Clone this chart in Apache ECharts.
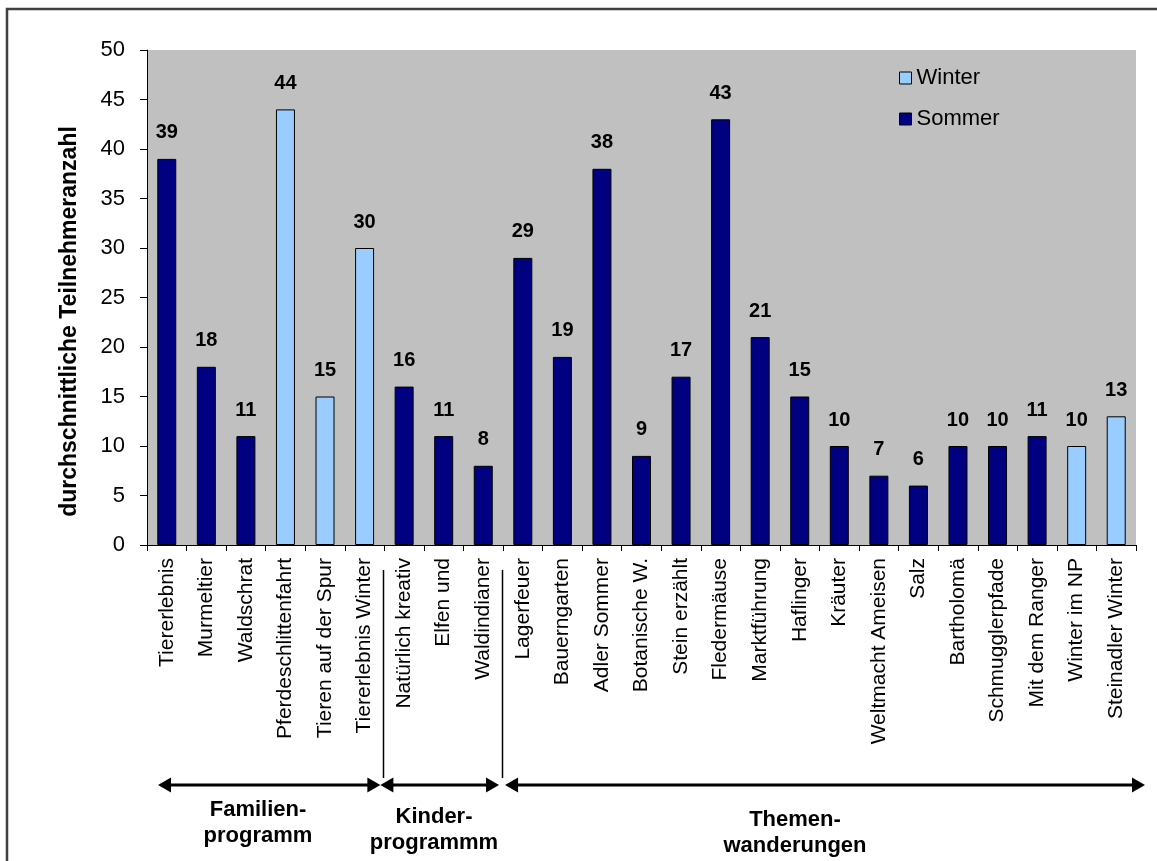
<!DOCTYPE html>
<html>
<head>
<meta charset="utf-8">
<script src="https://cdn.jsdelivr.net/npm/echarts@6/dist/echarts.min.js"></script>
<style>
  html, body { margin: 0; padding: 0; background: #ffffff; }
  #chart { width: 1157px; height: 861px; }
</style>
</head>
<body>
<div id="chart"></div>
<script>
// Programme names (x axis), in display order
const categories = [
  'Tiererlebnis', 'Murmeltier', 'Waldschrat', 'Pferdeschlittenfahrt', 'Tieren auf der Spur',
  'Tiererlebnis Winter', 'Natürlich kreativ', 'Elfen und', 'Waldindianer', 'Lagerfeuer',
  'Bauerngarten', 'Adler Sommer', 'Botanische W.', 'Stein erzählt', 'Fledermäuse',
  'Marktführung', 'Haflinger', 'Kräuter', 'Weltmacht Ameisen', 'Salz',
  'Bartholomä', 'Schmugglerpfade', 'Mit dem Ranger', 'Winter im NP', 'Steinadler Winter'
];

// Average number of participants per programme
const values = [39, 18, 11, 44, 15, 30, 16, 11, 8, 29, 19, 38, 9, 17, 43, 21, 15, 10, 7, 6, 10, 10, 11, 10, 13];

// Season of each programme
const seasons = [
  'Sommer', 'Sommer', 'Sommer', 'Winter', 'Winter', 'Winter', 'Sommer', 'Sommer', 'Sommer', 'Sommer',
  'Sommer', 'Sommer', 'Sommer', 'Sommer', 'Sommer', 'Sommer', 'Sommer', 'Sommer', 'Sommer', 'Sommer',
  'Sommer', 'Sommer', 'Sommer', 'Winter', 'Winter'
];

const seriesNames = ['Winter', 'Sommer'];
const seriesColors = { Winter: '#99CCFF', Sommer: '#000080' };

// Value axis ticks
const yMin = 0, yMax = 50, yStep = 5;

// Programme groups shown beneath the axis labels (first/last category index)
const groups = [
  { lines: ['Familien-', 'programm'], first: 0, last: 5 },
  { lines: ['Kinder-', 'programmm'], first: 6, last: 8 },
  { lines: ['Themen-', 'wanderungen'], first: 9, last: 24 }
];

const yTitle = 'durchschnittliche Teilnehmeranzahl';

// ---- layout constants ----
const FONT = '"Liberation Sans", Arial, sans-serif';
const grid = { left: 147, top: 50, right: 21, bottom: 316 };
const arrowY = 785;
const groupLabelX = [258, 434, 795];
const groupLabelY = [[810, 836], [817, 843], [820, 846]];

const chart = echarts.init(document.getElementById('chart'), null, { renderer: 'canvas' });

const series = seriesNames.map(name => ({
  name: name,
  type: 'bar',
  stack: 'all',
  barWidth: 19,
  itemStyle: { color: seriesColors[name], borderColor: '#000000', borderWidth: 1 },
  label: {
    show: true,
    position: 'top',
    distance: 16,
    color: '#000000',
    fontFamily: FONT,
    fontWeight: 'bold',
    fontSize: 20
  },
  data: values.map((v, i) => (seasons[i] === name ? v : '-'))
}));

chart.setOption({
  animation: false,
  backgroundColor: '#ffffff',
  grid: {
    left: grid.left, top: grid.top, right: grid.right, bottom: grid.bottom,
    show: true, backgroundColor: '#C0C0C0', borderWidth: 0, containLabel: false
  },
  legend: {
    orient: 'vertical',
    left: 894,
    top: 62,
    itemWidth: 12,
    itemHeight: 12,
    itemGap: 19,
    icon: 'rect',
    itemStyle: { borderColor: '#000000', borderWidth: 1 },
    textStyle: { fontFamily: FONT, fontSize: 22, color: '#000000' },
    data: seriesNames
  },
  xAxis: {
    type: 'category',
    data: categories,
    axisLine: { lineStyle: { color: '#000000', width: 1 } },
    axisTick: { show: true, length: 6, lineStyle: { color: '#000000' } },
    axisLabel: {
      interval: 0,
      rotate: 90,
      margin: 13,
      fontFamily: FONT,
      fontSize: 21,
      color: '#000000'
    },
    splitLine: { show: false }
  },
  yAxis: {
    type: 'value',
    min: yMin,
    max: yMax,
    interval: yStep,
    axisLine: { show: true, lineStyle: { color: '#000000', width: 1 } },
    axisTick: { show: true, length: 7, lineStyle: { color: '#000000' } },
    axisLabel: { fontFamily: FONT, fontSize: 22, color: '#000000', margin: 22 },
    splitLine: { show: false }
  },
  series: series
});

// ---- annotations: frame, axis title, group arrows ----
function drawAnnotations() {
  const c0 = chart.convertToPixel({ xAxisIndex: 0 }, 0);
  const c1 = chart.convertToPixel({ xAxisIndex: 0 }, 1);
  const band = c1 - c0;
  const gridLeft = c0 - band / 2;
  const gridRight = gridLeft + band * categories.length;
  const boundary = idx => chart.convertToPixel({ xAxisIndex: 0 }, idx) + band / 2;
  const yTop = chart.convertToPixel({ yAxisIndex: 0 }, yMax);
  const yBottom = chart.convertToPixel({ yAxisIndex: 0 }, yMin);

  const elements = [];

  // outer frame
  elements.push({
    type: 'rect', silent: true,
    shape: { x: 7, y: 9, width: 1175, height: 880 },
    style: { fill: null, stroke: '#404040', lineWidth: 2.5 }
  });

  // y axis title
  elements.push({
    type: 'text', silent: true,
    x: 70, y: (yTop + yBottom) / 2 + 24,
    rotation: Math.PI / 2,
    style: {
      text: yTitle, fontFamily: FONT, fontWeight: 'bold', fontSize: 23,
      fill: '#000000', align: 'center', verticalAlign: 'middle'
    }
  });

  const head = (tipX, dir) => ({
    type: 'polygon', silent: true,
    shape: { points: [[tipX, arrowY], [tipX - dir * 13, arrowY - 7.5], [tipX - dir * 13, arrowY + 7.5]] },
    style: { fill: '#000000' }
  });

  groups.forEach((g, gi) => {
    const left = gi === 0 ? gridLeft + 11 : boundary(g.first - 1) + (gi === 2 ? 2 : -4);
    const right = gi === groups.length - 1 ? gridRight + 9 : boundary(g.last) - 4;
    elements.push({
      type: 'line', silent: true,
      shape: { x1: left + 4, y1: arrowY, x2: right - 4, y2: arrowY },
      style: { stroke: '#000000', lineWidth: 3 }
    });
    elements.push(head(left, -1));
    elements.push(head(right, 1));
    g.lines.forEach((t, li) => {
      elements.push({
        type: 'text', silent: true,
        x: groupLabelX[gi], y: groupLabelY[gi][li],
        style: {
          text: t, fontFamily: FONT, fontWeight: 'bold', fontSize: 22,
          fill: '#000000', align: 'center', verticalAlign: 'middle'
        }
      });
    });
    // separators between groups
    if (gi < groups.length - 1) {
      const bx = Math.round(boundary(g.last)) - 0.5;
      elements.push({
        type: 'line', silent: true,
        shape: { x1: bx, y1: 570, x2: bx, y2: 778 },
        style: { stroke: '#000000', lineWidth: 1.5 }
      });
    }
  });

  chart.setOption({ graphic: { elements: elements } });
}

drawAnnotations();
</script>
</body>
</html>
